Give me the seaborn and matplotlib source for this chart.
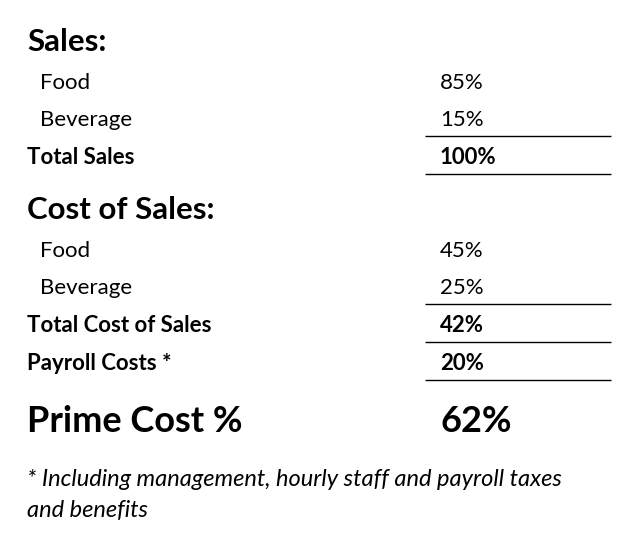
import matplotlib
matplotlib.use("Agg")
import matplotlib.pyplot as plt
import seaborn as sns

sns.set_theme(style="white")
plt.rcParams['font.family'] = ['Lato', 'DejaVu Sans']

sales_labels = ["Food", "Beverage"]
sales_values = ["85%", "15%"]
total_sales = ("Total Sales", "100%")
cost_labels = ["Food", "Beverage"]
cost_values = ["45%", "25%"]
total_cost = ("Total Cost of Sales", "42%")
payroll = ("Payroll Costs *", "20%")
prime = ("Prime Cost %", "62%")
footnote = ["* Including management, hourly staff and payroll taxes", "and benefits"]

fig = plt.figure(figsize=(6.42, 5.37), dpi=100)
ax = fig.add_axes([0, 0, 1, 1])
ax.set_xlim(0, 642)
ax.set_ylim(537, 0)
ax.axis("off")

c = "black"
xl, xi, xv = 27, 40, 440
bs, hs = 16, 22.5
ax.text(xl, 42, "Sales:", fontsize=hs, weight="bold", va="center", color=c)
for i, (l, v) in enumerate(zip(sales_labels, sales_values)):
    y = 83 + 37 * i
    ax.text(xi, y, l, fontsize=bs, va="center", color=c)
    ax.text(xv, y, v, fontsize=bs, va="center", color=c)
ax.text(xl, 158, total_sales[0], fontsize=bs, weight="bold", va="center", color=c)
ax.text(xv, 158, total_sales[1], fontsize=bs, weight="bold", va="center", color=c)

ax.text(xl, 210, "Cost of Sales:", fontsize=hs, weight="bold", va="center", color=c)
for i, (l, v) in enumerate(zip(cost_labels, cost_values)):
    y = 251 + 37 * i
    ax.text(xi, y, l, fontsize=bs, va="center", color=c)
    ax.text(xv, y, v, fontsize=bs, va="center", color=c)
ax.text(xl, 326, total_cost[0], fontsize=bs, weight="bold", va="center", color=c)
ax.text(xv, 326, total_cost[1], fontsize=bs, weight="bold", va="center", color=c)
ax.text(xl, 363, payroll[0], fontsize=bs, weight="bold", va="center", color=c)
ax.text(xv, 363, payroll[1], fontsize=bs, weight="bold", va="center", color=c)

ax.hlines([136, 174, 304, 342, 380], 425, 611, color="black", lw=1)

ax.text(xl, 422, prime[0], fontsize=26, weight="bold", va="center", color=c)
ax.text(xv, 422, prime[1], fontsize=26, weight="bold", va="center", color=c)

for i, line in enumerate(footnote):
    ax.text(xl, 480 + 31 * i, line, fontsize=17, style="italic", va="center", color=c)

fig.savefig("out.png", dpi=100)
